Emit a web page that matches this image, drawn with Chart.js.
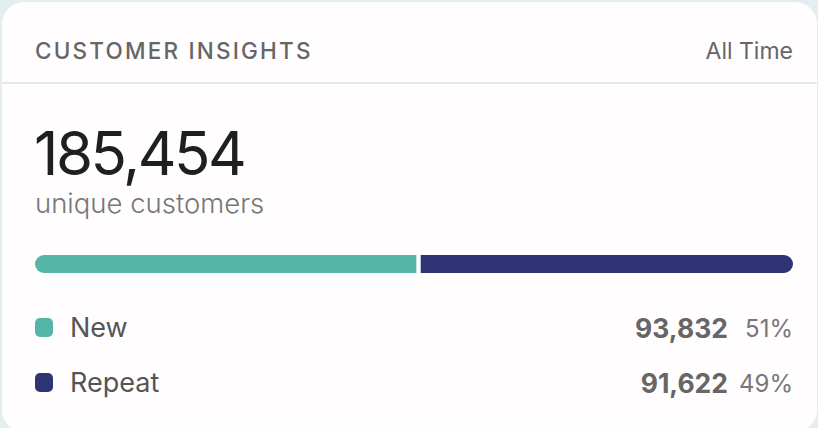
<!DOCTYPE html>
<html>
<head>
<meta charset="utf-8">
<script src="https://cdn.jsdelivr.net/npm/chart.js@4/dist/chart.umd.min.js"></script>
<style>
  html, body { margin: 0; padding: 0; }
  body { width: 818px; height: 428px; background: #e4eef1; overflow: hidden; font-family: Inter, "Noto Sans", sans-serif; position: relative; }
  .card { position: absolute; left: 2px; top: 2px; width: 815px; height: 430px; background: #fffdfe; border-radius: 22px; }
  .hdr { position: absolute; left: 0; top: 0; width: 815px; height: 80px; border-bottom: 2px solid #e6e7ea; }
  .title { position: absolute; left: 33px; top: 36px; font-size: 22.5px; font-weight: 500; letter-spacing: 2.2px; color: #666; line-height: 26px; }
  .range { position: absolute; right: 24px; top: 36px; font-size: 23px; color: #666; line-height: 26px; }
  .big { position: absolute; left: 32px; top: 115px; font-size: 60px; color: #1f1f1f; line-height: 72px; letter-spacing: -2.5px; }
  .sub { position: absolute; left: 33px; top: 185px; font-size: 27.5px; color: #777; line-height: 32px; font-weight: 300; }
  .barwrap { position: absolute; left: 33px; top: 253px; width: 758px; height: 18px; }
  .row { position: absolute; left: 33px; width: 758px; height: 32px; }
  .sw { position: absolute; left: 0; top: 4px; width: 18px; height: 19px; border-radius: 5px; }
  .lab { position: absolute; left: 35px; top: -1px; font-size: 27px; color: #555; line-height: 30px; font-weight: 400; }
  .val { position: absolute; right: 65px; top: -1px; font-size: 26.5px; font-weight: 700; color: #666; line-height: 30px; }
  .pct { position: absolute; right: 0; top: 0px; font-size: 24px; color: #777; line-height: 30px; }
</style>
</head>
<body>
<div class="card">
  <div class="hdr">
    <div class="title">CUSTOMER INSIGHTS</div>
    <div class="range">All Time</div>
  </div>
  <div class="big" id="total"></div>
  <div class="sub">unique customers</div>
  <div class="barwrap"><canvas id="c"></canvas></div>
  <div id="legend"></div>
</div>
<script>
const categories = ["New", "Repeat"];
const values = [93832, 91622];
const percentLabels = ["51%", "49%"];
const colors = ["#55b5a7", "#2f3475"];

const total = values.reduce((a, b) => a + b, 0);
document.getElementById('total').textContent = total.toLocaleString('en-US');

const legend = document.getElementById('legend');
categories.forEach((cat, i) => {
  const row = document.createElement('div');
  row.className = 'row';
  row.style.top = (312 + i * 55) + 'px';
  row.innerHTML = '<div class="sw" style="background:' + colors[i] + '"></div>' +
    '<div class="lab">' + cat + '</div>' +
    '<div class="val">' + values[i].toLocaleString('en-US') + '</div>' +
    '<div class="pct">' + percentLabels[i] + '</div>';
  legend.appendChild(row);
});

const datasets = categories.map((cat, i) => ({
  label: cat,
  data: [values[i]],
  backgroundColor: colors[i],
  borderColor: '#fffdfe',
  borderWidth: i === 0 ? {left: 0, top: 0, bottom: 0, right: 2.5} : {left: 2.5, top: 0, bottom: 0, right: 0},
  borderSkipped: false,
  borderRadius: i === 0 ? {topLeft: 9, bottomLeft: 9, topRight: 0, bottomRight: 0} : {topLeft: 0, bottomLeft: 0, topRight: 9, bottomRight: 9},
  barPercentage: 1,
  categoryPercentage: 1
}));

new Chart(document.getElementById('c'), {
  type: 'bar',
  data: { labels: ['Customers'], datasets },
  options: {
    indexAxis: 'y',
    responsive: true,
    maintainAspectRatio: false,
    animation: false,
    layout: { padding: 0 },
    plugins: { legend: { display: false }, tooltip: { enabled: false } },
    scales: {
      x: { stacked: true, display: false, min: 0, max: total },
      y: { stacked: true, display: false }
    }
  }
});
</script>
</body>
</html>
